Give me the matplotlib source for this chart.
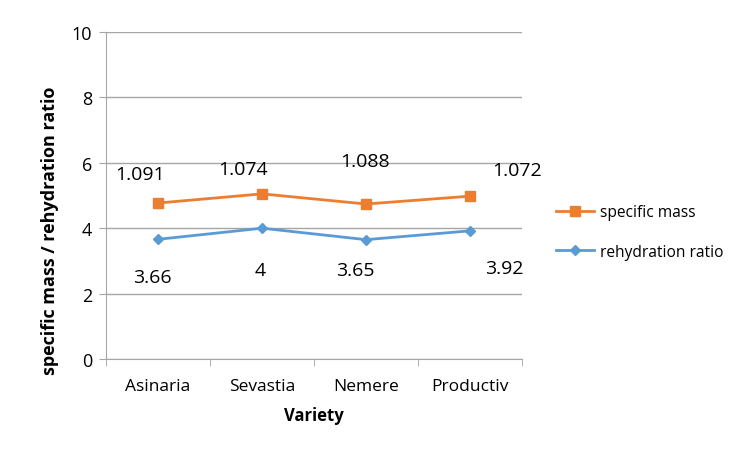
import numpy as np
import matplotlib.pyplot as plt

plt.rcParams['font.family'] = ['Open Sans', 'DejaVu Sans']

varieties = ['Asinaria', 'Sevastia', 'Nemere', 'Productiv']
specific_mass_plot = [4.77, 5.05, 4.74, 4.98]
specific_mass_labels = ['1.091', '1.074', '1.088', '1.072']
rehydration = [3.66, 4.0, 3.65, 3.92]
rehydration_labels = ['3.66', '4', '3.65', '3.92']

orange = '#ED7D31'
blue = '#5B9BD5'
grid_c = '#A6A6A6'

fig = plt.figure(figsize=(7.55, 4.52), dpi=100)
ax = fig.add_axes([0.1404, 0.2035, 0.5510, 0.7235])

x = np.arange(len(varieties))
ax.plot(x, specific_mass_plot, color=orange, lw=2, marker='s', ms=7,
        label='specific mass')
ax.plot(x, rehydration, color=blue, lw=2, marker='D', ms=5,
        label='rehydration ratio')

# label offsets (points) as placed on the original
off_mass = [(-13, 21), (-14, 18), (-1, 31), (34, 19)]
off_reh = [(-4, -27), (-1, -30), (-8, -22), (25, -27)]
for i in range(len(x)):
    ax.annotate(specific_mass_labels[i], (x[i], specific_mass_plot[i]),
                xytext=off_mass[i], textcoords='offset points',
                ha='center', va='center', fontsize=14, color='#000000')
    ax.annotate(rehydration_labels[i], (x[i], rehydration[i]),
                xytext=off_reh[i], textcoords='offset points',
                ha='center', va='center', fontsize=14, color='#000000')

ax.set_ylim(0, 10)
ax.set_yticks(range(0, 11, 2))
ax.set_xlim(-0.5, 3.5)
ax.set_xticks(x)
ax.set_xticklabels(varieties)
ax.set_xticks(np.arange(-0.5, 4, 1), minor=True)
ax.tick_params(axis='x', which='major', length=0, pad=14, labelsize=12.5)
ax.tick_params(axis='x', which='minor', length=5, color=grid_c)
ax.tick_params(axis='y', length=5, color=grid_c, labelsize=13, pad=5)
ax.yaxis.grid(True, color=grid_c, lw=1)
ax.set_axisbelow(True)
for s in ['top', 'right']:
    ax.spines[s].set_visible(False)
for s in ['left', 'bottom']:
    ax.spines[s].set_color(grid_c)

ax.set_xlabel('Variety', fontsize=12, fontweight='bold', labelpad=8)
ax.set_ylabel('specific mass / rehydration ratio', fontsize=13,
              fontweight='bold')
ax.yaxis.set_label_coords(-0.114, 0.394)

ax.legend(loc='center left', bbox_to_anchor=(1.047, 0.388), frameon=False,
          fontsize=11.2, handlelength=2.5, handletextpad=0.35,
          labelspacing=1.5)

fig.savefig('out.png', dpi=100)
